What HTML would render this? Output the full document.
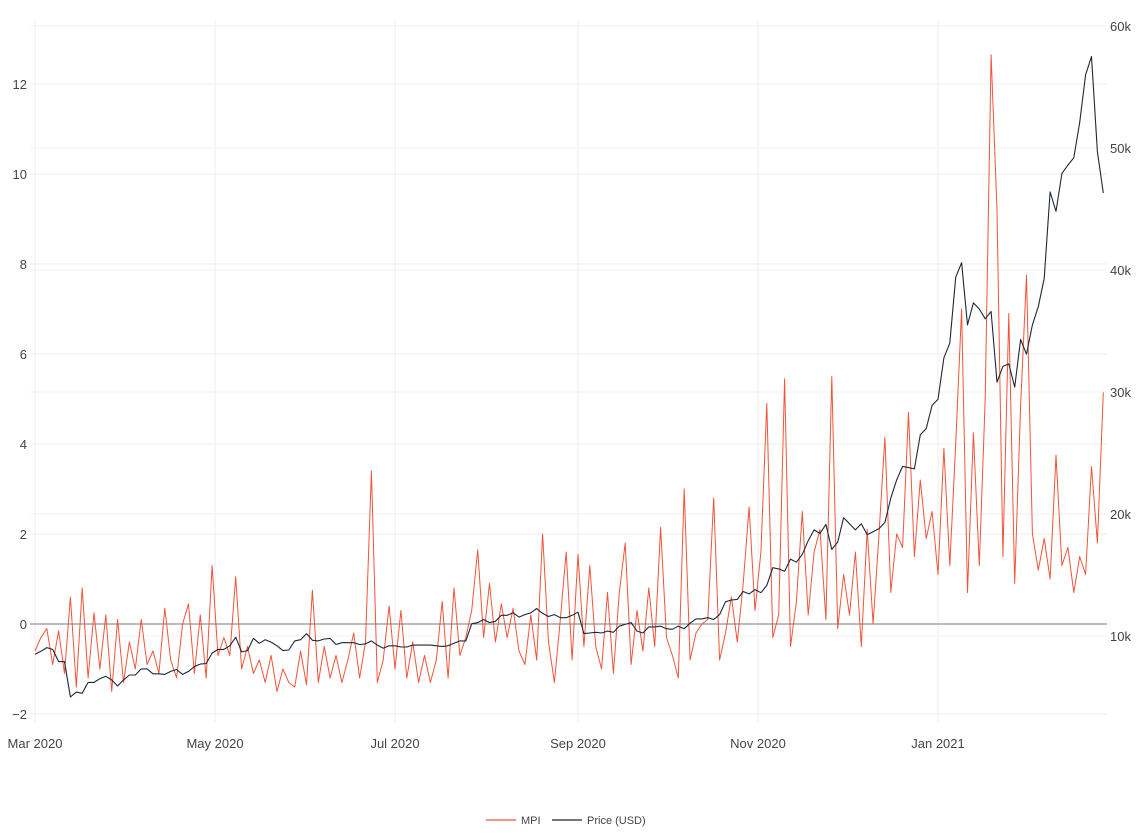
<!DOCTYPE html>
<html><head><meta charset="utf-8">
<style>
html,body{margin:0;padding:0;background:#fff;}
svg text{font-family:"Liberation Sans",sans-serif;fill:#444;}
</style></head>
<body>
<svg id="chart" width="1139" height="835" xmlns="http://www.w3.org/2000/svg">
<g id="grid"></g>
<g id="axes"></g>
<g id="series"></g>
<g id="legend">
  <line x1="486" y1="820" x2="516" y2="820" stroke="#EF553B" stroke-width="1.2"/>
  <text x="521" y="824" font-size="11">MPI</text>
  <line x1="552" y1="820" x2="582" y2="820" stroke="#1c2838" stroke-width="1.2"/>
  <text x="587" y="824" font-size="11">Price (USD)</text>
</g>
</svg>
<script>
// data: one sample every 2 days starting 2020-03-01
const startDate = "2020-03-01";
const stepDays = 2;
const mpiValues = [
-0.6,-0.3,-0.1,-0.9,-0.15,-1.1,0.6,-1.4,0.8,-1.2,
0.25,-1.0,0.2,-1.5,0.1,-1.3,-0.4,-1.0,0.1,-0.9,
-0.6,-1.1,0.35,-0.8,-1.2,0.0,0.45,-1.1,0.2,-1.2,
1.3,-0.7,-0.3,-0.7,1.05,-1.0,-0.5,-1.1,-0.8,-1.3,
-0.7,-1.5,-1.0,-1.3,-1.4,-0.6,-1.35,0.75,-1.3,-0.5,
-1.2,-0.7,-1.3,-0.8,-0.2,-1.2,-0.4,3.4,-1.3,-0.8,
0.4,-1.0,0.3,-1.2,-0.4,-1.3,-0.7,-1.3,-0.8,0.5,
-1.2,0.8,-0.7,-0.3,0.3,1.65,-0.3,0.9,-0.4,0.45,
-0.3,0.35,-0.6,-0.9,0.2,-0.8,2.0,-0.4,-1.3,0.1,
1.6,-0.8,1.55,-0.5,1.3,-0.5,-1.0,0.7,-1.1,0.7,
1.8,-0.9,0.3,-0.6,0.8,-0.5,2.15,-0.3,-0.7,-1.2,
3.0,-0.8,-0.2,0.0,0.1,2.8,-0.8,-0.2,0.6,-0.4,
0.9,2.6,0.3,1.6,4.9,-0.3,0.2,5.45,-0.5,0.5,
2.5,0.2,1.6,2.1,0.1,5.5,-0.1,1.1,0.2,1.6,
-0.5,2.1,0.0,2.0,4.15,0.7,2.0,1.7,4.7,1.5,
3.2,1.9,2.5,1.1,3.9,1.3,4.0,7.0,0.7,4.25,
1.3,5.0,12.65,9.2,1.5,6.9,0.9,4.85,7.75,2.0,
1.2,1.9,1.0,3.75,1.3,1.7,0.7,1.5,1.1,3.5,
1.8,5.15];
const priceValues = [
8.5,8.75,9.05,8.9,7.9,7.9,5.0,5.4,5.3,6.2,6.2,6.5,6.7,6.4,5.9,6.4,
6.8,6.8,7.3,7.3,6.9,6.9,6.85,7.1,7.25,6.85,7.1,7.5,7.7,7.75,8.6,
8.9,8.9,9.2,9.9,8.7,8.8,9.8,9.4,9.7,9.5,9.2,8.8,8.85,9.6,9.7,
10.2,9.65,9.6,9.75,9.8,9.3,9.45,9.45,9.45,9.3,9.35,9.6,9.25,9.0,9.2,
9.2,9.1,9.1,9.25,9.25,9.25,9.25,9.2,9.15,9.2,9.4,9.6,9.6,11.0,11.1,11.35,
11.1,11.2,11.7,11.7,11.9,11.55,11.75,11.9,12.25,11.85,11.6,11.75,11.5,11.5,11.7,
11.95,10.2,10.25,10.3,10.25,10.4,10.3,10.8,10.95,11.1,10.4,10.25,10.75,10.75,10.8,
10.6,10.55,10.8,10.6,11.05,11.4,11.4,11.5,11.35,11.75,12.8,12.95,13.0,13.65,13.45,13.8,
13.55,14.15,15.6,15.5,15.3,16.3,16.05,16.7,17.8,18.7,18.4,19.15,17.1,17.7,19.7,
19.2,18.7,19.2,18.3,18.55,18.8,19.3,21.3,22.8,23.9,23.8,23.7,26.5,27.0,28.9,
29.4,32.8,34.0,39.4,40.6,35.5,37.3,36.8,36.0,36.6,30.8,32.1,32.3,30.4,34.3,33.1,
35.5,37.0,39.3,46.4,44.8,47.9,48.6,49.2,52.1,56.0,57.5,49.7,46.3];
const xTickLabels = ["Mar 2020","May 2020","Jul 2020","Sep 2020","Nov 2020","Jan 2021"];
const xTickDays = [0,61,122,184,245,306];
const yLeftTicks = [-2,0,2,4,6,8,10,12];
const yRightTicks = [10,20,30,40,50,60];
const yRightTickLabels = ["10k","20k","30k","40k","50k","60k"];

const NS="http://www.w3.org/2000/svg";
const X0=35, PXDAY=2.951, L0=624, LPX=45, R10=636, RPX=12.2;
const PL=30, PR=1107, PT=20, PB=722;
function xDay(d){return X0+d*PXDAY;}
function yL(v){return L0-v*LPX;}
function yR(k){return R10-(k-10)*RPX;}
function mk(tag,attrs,parent){const e=document.createElementNS(NS,tag);for(const k in attrs)e.setAttribute(k,attrs[k]);parent.appendChild(e);return e;}
const grid=document.getElementById('grid'),axes=document.getElementById('axes'),series=document.getElementById('series');

xTickDays.forEach((d,i)=>{
  const l=mk('line',{x1:xDay(d),x2:xDay(d),y1:PT,y2:PB,stroke:'#eeeeee','stroke-width':1},grid);
  
  
  const t=mk('text',{x:xDay(d),y:748,'font-size':13,'text-anchor':'middle'},axes);
  t.textContent=xTickLabels[i];
  
  
});
yLeftTicks.forEach(v=>{
  if(v!==0){const l=mk('line',{x1:PL,x2:PR,y1:yL(v),y2:yL(v),stroke:'#eeeeee','stroke-width':1},grid);
  
  }
  const t=mk('text',{x:27,y:yL(v)+5,'font-size':13,'text-anchor':'end'},axes);
  t.textContent=v<0?'\u2212'+Math.abs(v):String(v);
  
  
});
yRightTicks.forEach((k,i)=>{
  const l=mk('line',{x1:PL,x2:PR,y1:yR(k),y2:yR(k),stroke:'#f2f2f2','stroke-width':1},grid);
  
  
  const t=mk('text',{x:1110,y:yR(k)+5,'font-size':13,'text-anchor':'start'},axes);
  t.textContent=yRightTickLabels[i];
  
  
});
const z=mk('line',{x1:PL,x2:PR,y1:yL(0),y2:yL(0),stroke:'#777','stroke-width':1},axes);



const mp=mk('polyline',{points:mpiValues.map((v,i)=>xDay(i*stepDays).toFixed(1)+','+yL(v).toFixed(1)).join(' '),fill:'none',stroke:'#EF553B','stroke-width':1,'stroke-linejoin':'round'},series);


const pp=mk('polyline',{points:priceValues.map((v,i)=>xDay(i*stepDays).toFixed(1)+','+yR(v).toFixed(1)).join(' '),fill:'none',stroke:'#1c2838','stroke-width':1.1,'stroke-linejoin':'round'},series);


</script>
</body></html>
